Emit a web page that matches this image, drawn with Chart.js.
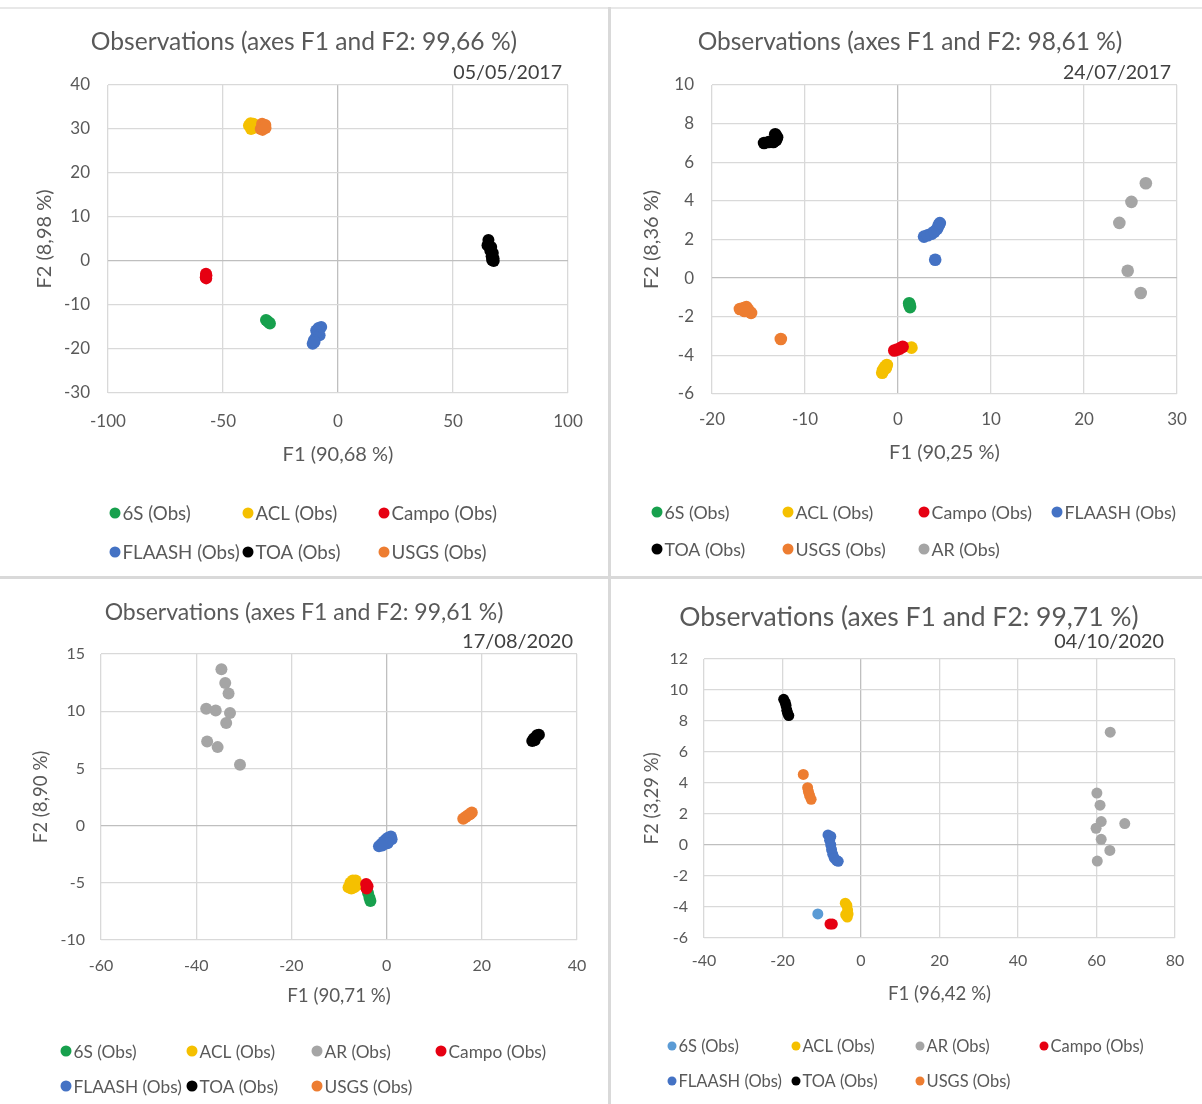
<!DOCTYPE html>
<html>
<head>
<meta charset="utf-8">
<script src="https://cdn.jsdelivr.net/npm/chart.js@4.4.1/dist/chart.umd.min.js"></script>
<style>
  body { margin: 0; background: #fff; width: 1202px; height: 1104px; position: relative; overflow: hidden; }
  canvas { position: absolute; }
  .rule { position: absolute; background: #d9d9d9; }
</style>
</head>
<body>
<div class="rule" style="left:0;top:7px;width:1202px;height:2px;background:#e8e8e8"></div>
<div class="rule" style="left:608px;top:7px;width:3px;height:1097px"></div>
<div class="rule" style="left:0;top:576px;width:1202px;height:3px"></div>
<canvas id="c1" width="608" height="576" style="left:0;top:0"></canvas>
<canvas id="c2" width="598" height="576" style="left:611px;top:0"></canvas>
<canvas id="c3" width="608" height="524" style="left:0;top:580px"></canvas>
<canvas id="c4" width="596" height="524" style="left:611px;top:580px"></canvas>
<script>
// series names (legend order per chart)
const names1 = ['6S (Obs)', 'ACL (Obs)', 'Campo (Obs)', 'FLAASH (Obs)', 'TOA (Obs)', 'USGS (Obs)'];
const names2 = ['6S (Obs)', 'ACL (Obs)', 'Campo (Obs)', 'FLAASH (Obs)', 'TOA (Obs)', 'USGS (Obs)', 'AR (Obs)'];
const names3 = ['6S (Obs)', 'ACL (Obs)', 'AR (Obs)', 'Campo (Obs)', 'FLAASH (Obs)', 'TOA (Obs)', 'USGS (Obs)'];

const colors1 = ['#17a04d', '#f5c000', '#e60012', '#4472c4', '#000000', '#ed7d31'];
const colors2 = ['#17a04d', '#f5c000', '#e60012', '#4472c4', '#000000', '#ed7d31', '#a5a5a5'];
const colors3 = ['#17a04d', '#f5c000', '#a5a5a5', '#e60012', '#4472c4', '#000000', '#ed7d31'];
const colors4 = ['#5b9bd5', '#f5c000', '#a5a5a5', '#e60012', '#4472c4', '#000000', '#ed7d31'];

// 05/05/2017  [F1, F2]
const may17_6S = [[-31.3, -13.4], [-30.6, -13.7], [-30.0, -14.0], [-29.6, -14.2]];
const may17_ACL = [[-38.7, 30.8], [-38.0, 31.3], [-37.3, 30.5], [-36.8, 31.2], [-36.5, 30.3], [-37.8, 30.0]];
const may17_Campo = [[-57.4, -2.9], [-57.2, -3.3], [-57.5, -3.7], [-57.3, -3.95]];
const may17_FLAASH = [[-7.3, -15.0], [-8.5, -15.2], [-9.5, -15.8], [-8.0, -16.9], [-9.6, -17.3], [-10.5, -18.0], [-11.0, -18.8], [-10.2, -18.4]];
const may17_TOA = [[65.4, 4.8], [65.0, 3.6], [66.6, 3.2], [66.2, 2.4], [67.3, 1.8], [66.8, 1.1], [67.6, 0.6], [67.0, 0.2], [67.7, 0.0]];
const may17_USGS = [[-33.6, 30.0], [-33.0, 31.2], [-32.3, 30.6], [-31.6, 30.9], [-32.8, 29.8], [-31.5, 30.2]];

// 24/07/2017
const jul17_6S = [[1.2, -1.3], [1.25, -1.4], [1.3, -1.5]];
const jul17_ACL = [[1.45, -3.6], [-1.2, -4.5], [-1.4, -4.6], [-1.6, -4.75], [-1.7, -4.9], [-1.3, -4.65]];
const jul17_Campo = [[-0.4, -3.75], [-0.1, -3.7], [0.2, -3.65], [0.5, -3.55]];
const jul17_FLAASH = [[2.8, 2.15], [3.2, 2.22], [3.6, 2.3], [3.9, 2.4], [4.2, 2.55], [4.4, 2.75], [4.5, 2.85], [4.0, 0.95]];
const jul17_TOA = [[-14.4, 7.0], [-13.9, 7.05], [-13.4, 7.05], [-13.2, 7.45], [-13.0, 7.3], [-13.1, 7.15]];
const jul17_USGS = [[-17.0, -1.6], [-16.6, -1.55], [-16.3, -1.5], [-16.1, -1.65], [-15.8, -1.8], [-16.5, -1.7], [-12.6, -3.15]];
const jul17_AR = [[26.65, 4.91], [25.1, 3.95], [23.8, 2.86], [24.7, 0.38], [26.1, -0.77]];

// 17/08/2020
const aug20_6S = [[-3.9, -5.9], [-3.6, -6.3], [-3.4, -6.6]];
const aug20_ACL = [[-8.0, -5.4], [-7.6, -5.0], [-7.1, -4.8], [-6.5, -4.8], [-6.2, -5.2], [-6.8, -5.4], [-7.4, -5.5]];
const aug20_AR = [[-34.7, 13.67], [-33.9, 12.47], [-33.2, 11.54], [-37.9, 10.22], [-35.9, 10.07], [-32.9, 9.84], [-33.7, 8.97], [-37.7, 7.36], [-35.5, 6.86], [-30.8, 5.32]];
const aug20_Campo = [[-4.3, -5.1], [-4.0, -5.3], [-4.2, -5.5]];
const aug20_FLAASH = [[-1.6, -1.8], [-1.1, -1.6], [-0.6, -1.4], [-0.1, -1.2], [0.4, -1.05], [0.9, -0.95], [1.05, -1.2], [0.2, -1.55], [-0.9, -1.75]];
const aug20_TOA = [[30.6, 7.4], [30.9, 7.6], [31.3, 7.7], [31.6, 7.9], [32.0, 7.95], [31.1, 7.45]];
const aug20_USGS = [[16.1, 0.6], [16.6, 0.75], [17.1, 0.9], [17.5, 1.0], [17.9, 1.15]];

// 04/10/2020
const oct20_6S = [[-11.0, -4.45]];
const oct20_ACL = [[-4.0, -3.75], [-3.6, -3.9], [-3.4, -4.2], [-3.3, -4.45], [-3.5, -4.65], [-3.9, -4.5]];
const oct20_AR = [[63.5, 7.28], [60.1, 3.35], [60.9, 2.57], [61.2, 1.51], [67.2, 1.38], [59.9, 1.08], [61.2, 0.37], [63.4, -0.35], [60.2, -1.04]];
const oct20_Campo = [[-7.9, -5.1], [-7.3, -5.1]];
const oct20_FLAASH = [[-8.4, 0.65], [-7.7, 0.55], [-8.0, 0.3], [-7.7, 0.0], [-7.5, -0.3], [-7.2, -0.6], [-6.8, -0.85], [-6.2, -1.0], [-5.8, -1.05]];
const oct20_TOA = [[-19.7, 9.4], [-19.3, 9.2], [-19.1, 9.0], [-18.9, 8.7], [-18.7, 8.5], [-18.4, 8.35]];
const oct20_USGS = [[-14.7, 4.55], [-13.6, 3.7], [-13.4, 3.45], [-13.1, 3.2], [-12.7, 2.95]];

const font = 'Lato, sans-serif';
const grey = '#595959';

// draws the date above the plot and the Excel-style legend grid under it
const extras = {
  id: 'extras',
  afterDraw(chart, args, o) {
    const ctx = chart.ctx;
    ctx.save();
    ctx.textBaseline = 'middle';
    ctx.font = o.dateSize + 'px ' + font;
    ctx.fillStyle = '#404040';
    ctx.textAlign = 'right';
    ctx.fillText(o.date, o.dateX, o.dateY);
    ctx.font = o.legSize + 'px ' + font;
    ctx.textAlign = 'left';
    chart.data.datasets.forEach((ds, i) => {
      const x = o.cols[i % o.cols.length];
      const y = o.rows[Math.floor(i / o.cols.length)];
      ctx.beginPath();
      ctx.arc(x, y, o.legR, 0, Math.PI * 2);
      ctx.fillStyle = ds.backgroundColor;
      ctx.fill();
      ctx.fillStyle = grey;
      ctx.fillText(ds.label, x + o.legR + 2, y + 1);
    });
    ctx.restore();
  }
};

function gridColor(c) {
  return c.tick && c.tick.value === 0 ? '#bfbfbf' : '#d9d9d9';
}

function panel(id, p) {
  const canvas = document.getElementById(id);
  const W = canvas.width, H = canvas.height;
  const [left, right, top, bottom] = p.box;
  const tLH = p.titleSize * 1.2;
  const tickLH = p.tickSize * 1.2;
  const axLH = p.axSize * 1.2;
  return new Chart(canvas, {
    type: 'scatter',
    data: {
      datasets: p.series.map((pts, i) => ({
        label: p.names[i],
        data: pts.map(([x, y]) => ({x, y})),
        backgroundColor: p.colors[i],
        borderColor: p.colors[i],
        borderWidth: 0,
        pointRadius: p.r,
        pointHoverRadius: p.r,
        order: -i
      }))
    },
    options: {
      responsive: false,
      animation: false,
      events: [],
      layout: {padding: 0},
      plugins: {
        legend: {display: false},
        tooltip: {enabled: false},
        title: {
          display: true, text: p.title, color: grey,
          font: {family: font, size: p.titleSize, weight: 'normal'},
          padding: {top: p.titleY - tLH / 2, bottom: top - p.titleY - tLH / 2}
        },
        extras: {
          date: p.date, dateX: p.dateX, dateY: p.dateY, dateSize: p.dateSize,
          cols: p.cols, rows: p.rows, legR: p.legR, legSize: p.legSize
        }
      },
      scales: {
        x: {
          type: 'linear', position: 'bottom', min: p.x[0], max: p.x[1],
          ticks: {stepSize: p.x[2], color: grey, font: {family: font, size: p.tickSize},
            padding: p.xLabelY - bottom - tickLH / 2, autoSkip: false, maxRotation: 0},
          grid: {color: gridColor, lineWidth: 1.3, drawTicks: false},
          border: {display: false},
          title: {display: true, text: p.xTitle, color: grey, font: {family: font, size: p.axSize},
            padding: {top: 0, bottom: H - p.xTitleY - axLH / 2}},
          afterFit: s => { s.height = H - bottom; }
        },
        y: {
          type: 'linear', position: 'left', min: p.y[0], max: p.y[1],
          ticks: {stepSize: p.y[2], color: grey, font: {family: font, size: p.tickSize},
            padding: p.yPad, autoSkip: false},
          grid: {color: gridColor, lineWidth: 1.3, drawTicks: false},
          border: {display: false},
          title: {display: true, text: p.yTitle, color: grey, font: {family: font, size: p.axSize},
            padding: {top: p.yTitleX - axLH / 2, bottom: 0}},
          afterFit: s => { s.width = left; }
        },
        side: {
          type: 'linear', position: 'right',
          ticks: {display: false}, grid: {display: false}, border: {display: false},
          afterFit: s => { s.width = W - right; }
        }
      }
    },
    plugins: [extras]
  });
}

panel('c1', {
  names: names1, colors: colors1, r: 6,
  series: [may17_6S, may17_ACL, may17_Campo, may17_FLAASH, may17_TOA, may17_USGS],
  box: [108, 568, 85, 393], x: [-100, 100, 50], y: [-30, 40, 10],
  title: 'Observations (axes F1 and F2: 99,66 %)', titleSize: 24.6, titleY: 42,
  date: '05/05/2017', dateX: 562, dateY: 73, dateSize: 19.6,
  xTitle: 'F1 (90,68 %)', yTitle: 'F2 (8,98 %)', axSize: 20, xTitleY: 455, yTitleX: 45,
  tickSize: 17, xLabelY: 422, yPad: 18,
  cols: [115, 248, 384], rows: [513, 552], legR: 5.5, legSize: 18.7
});

panel('c2', {
  names: names2, colors: colors2, r: 6.3,
  series: [jul17_6S, jul17_ACL, jul17_Campo, jul17_FLAASH, jul17_TOA, jul17_USGS, jul17_AR],
  box: [101, 566, 85, 394], x: [-20, 30, 10], y: [-6, 10, 2],
  title: 'Observations (axes F1 and F2: 98,61 %)', titleSize: 24.5, titleY: 42,
  date: '24/07/2017', dateX: 560, dateY: 73, dateSize: 19.5,
  xTitle: 'F1 (90,25 %)', yTitle: 'F2 (8,36 %)', axSize: 20, xTitleY: 453, yTitleX: 41,
  tickSize: 17, xLabelY: 420, yPad: 18,
  cols: [46, 177, 313, 446], rows: [512, 549], legR: 5.5, legSize: 17.8
});

panel('c3', {
  names: names3, colors: colors3, r: 6,
  series: [aug20_6S, aug20_ACL, aug20_AR, aug20_Campo, aug20_FLAASH, aug20_TOA, aug20_USGS],
  box: [101, 577, 74, 360], x: [-60, 40, 20], y: [-10, 15, 5],
  title: 'Observations (axes F1 and F2: 99,61 %)', titleSize: 23, titleY: 33,
  date: '17/08/2020', dateX: 573, dateY: 62, dateSize: 20,
  xTitle: 'F1 (90,71 %)', yTitle: 'F2 (8,90 %)', axSize: 18.7, xTitleY: 416, yTitleX: 41,
  tickSize: 16, xLabelY: 386, yPad: 16,
  cols: [66, 192, 317, 441], rows: [471, 506], legR: 5.5, legSize: 17.3
});

panel('c4', {
  names: names3, colors: colors4, r: 5.5,
  series: [oct20_6S, oct20_ACL, oct20_AR, oct20_Campo, oct20_FLAASH, oct20_TOA, oct20_USGS],
  box: [93, 564, 79, 358], x: [-40, 80, 20], y: [-6, 12, 2],
  title: 'Observations (axes F1 and F2: 99,71 %)', titleSize: 26.5, titleY: 37,
  date: '04/10/2020', dateX: 553, dateY: 62, dateSize: 19.8,
  xTitle: 'F1 (96,42 %)', yTitle: 'F2 (3,29 %)', axSize: 18.6, xTitleY: 414, yTitleX: 41,
  tickSize: 16, xLabelY: 381, yPad: 16,
  cols: [61, 185, 309, 433], rows: [466, 501], legR: 4.5, legSize: 16.5
});
</script>
</body>
</html>
